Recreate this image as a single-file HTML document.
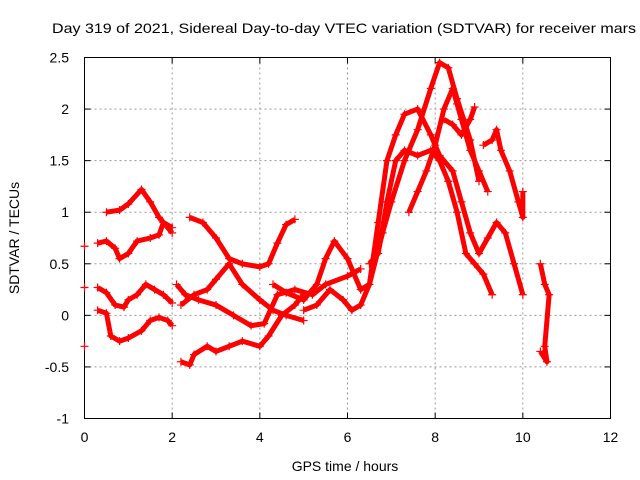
<!DOCTYPE html>
<html><head><meta charset="utf-8"><style>
body{margin:0;background:#fff;}
svg{display:block;font-family:"Liberation Sans",sans-serif;}
</style></head><body>
<svg id="chart" width="640" height="480"></svg>
<script>
const xTicks=[0,2,4,6,8,10,12];
const yTicks=[-1,-0.5,0,0.5,1,1.5,2,2.5];
const yTickLabels=["-1","-0.5","0","0.5","1","1.5","2","2.5"];
const trackA=[[0.3,0.7],[0.5,0.72],[0.7,0.65],[0.8,0.55],[1.0,0.6],[1.2,0.72],[1.5,0.75],[1.7,0.78],[1.8,0.9],[2.0,0.85]];
const trackB=[[0.5,1.0],[0.8,1.02],[1.0,1.08],[1.3,1.22],[1.5,1.1],[1.7,0.95],[2.0,0.8]];
const trackC=[[0.3,0.27],[0.5,0.22],[0.7,0.1],[0.9,0.08],[1.0,0.15],[1.2,0.2],[1.4,0.3],[1.6,0.25],[1.8,0.2],[2.0,0.12]];
const trackD=[[0.3,0.05],[0.5,0.02],[0.6,-0.2],[0.8,-0.25],[1.0,-0.22],[1.3,-0.15],[1.5,-0.05],[1.7,-0.02],[1.9,-0.05],[2.0,-0.1]];
const trackE=[[2.4,0.95],[2.7,0.9],[3.0,0.75],[3.3,0.55],[3.6,0.5],[4.0,0.47],[4.2,0.5],[4.4,0.7],[4.6,0.88],[4.8,0.93]];
const trackF=[[2.2,0.1],[2.5,0.2],[2.8,0.25],[3.0,0.35],[3.3,0.5],[3.6,0.3],[4.0,0.15],[4.3,0.05],[4.6,0.0],[5.0,-0.05]];
const trackG=[[2.2,-0.45],[2.4,-0.48],[2.5,-0.38],[2.8,-0.3],[3.0,-0.35],[3.3,-0.3],[3.6,-0.25],[4.0,-0.3],[4.2,-0.2],[4.5,0.0],[4.8,0.1],[5.0,0.2]];
const trackH=[[2.1,0.3],[2.3,0.2],[2.6,0.15],[3.0,0.1],[3.4,0.0],[3.8,-0.1],[4.1,-0.08],[4.4,0.2],[4.8,0.25],[5.2,0.2],[5.5,0.3],[6.0,0.38],[6.3,0.45]];
const trackI=[[4.3,0.3],[4.6,0.22],[5.0,0.15],[5.3,0.3],[5.5,0.55],[5.7,0.72],[6.0,0.55],[6.3,0.25],[6.5,0.3],[6.8,0.8],[7.0,1.1],[7.3,1.5],[7.6,1.8],[7.9,2.2],[8.1,2.45],[8.3,2.4],[8.5,2.1],[8.8,1.7],[9.0,1.3]];
const trackJ=[[5.0,0.05],[5.3,0.1],[5.6,0.25],[5.9,0.15],[6.1,0.05],[6.3,0.1],[6.5,0.3],[6.7,0.9],[6.9,1.5],[7.1,1.75],[7.3,1.95],[7.6,2.0],[7.9,1.75],[8.1,1.55],[8.4,1.4],[8.6,1.1],[8.8,0.8],[9.0,0.6],[9.2,0.75],[9.4,0.9],[9.6,0.8],[9.8,0.5],[10.0,0.2]];
const trackK=[[6.5,0.5],[6.7,0.6],[6.9,1.1],[7.1,1.5],[7.3,1.6],[7.6,1.55],[7.9,1.6],[8.1,1.5],[8.3,1.3],[8.5,1.0],[8.7,0.6],[8.9,0.5],[9.1,0.4],[9.3,0.2]];
const trackL=[[7.4,1.0],[7.6,1.2],[7.8,1.4],[8.0,1.65],[8.2,2.0],[8.4,2.2],[8.5,2.05],[8.6,1.9],[8.8,1.6],[9.0,1.4],[9.2,1.2]];
const trackM=[[8.2,1.9],[8.4,1.85],[8.6,1.75],[8.8,1.9],[8.9,2.02]];
const trackN=[[9.1,1.65],[9.3,1.7],[9.4,1.8],[9.5,1.6],[9.7,1.4],[9.9,1.1],[10.0,0.95],[10.0,1.2]];
const trackO=[[10.4,0.5],[10.5,0.3],[10.6,0.2],[10.5,-0.3],[10.55,-0.45],[10.4,-0.35]];
const singles=[[0,0.67],[0,0.27],[0,-0.3]];
const tracks=[trackA,trackB,trackC,trackD,trackE,trackF,trackG,trackH,trackI,trackJ,trackK,trackL,trackM,trackN,trackO];

const L=84.5,R=610.5,T=57.5,B=418.5;
const X=v=>L+(v-0)/(12-0)*(R-L);
const Y=v=>B-(v+1)/(3.5)*(B-T);
const NS="http://www.w3.org/2000/svg";
const svg=document.getElementById('chart');
function mk(tag,attrs,parent){const e=document.createElementNS(NS,tag);for(const k in attrs)e.setAttribute(k,attrs[k]);(parent||svg).appendChild(e);return e;}

const t=mk('text',{x:52,y:33,'font-size':14,fill:'#000',textLength:584,lengthAdjust:'spacingAndGlyphs'});
t.textContent='Day 319 of 2021, Sidereal Day-to-day VTEC variation (SDTVAR) for receiver mars';



xTicks.forEach(v=>{
  const x=X(v);
  if(v>0&&v<12){const g=mk('line',{x1:x,x2:x,y1:T,y2:B,stroke:'#999','stroke-dasharray':'2,3'});
  
  }
  mk('line',{x1:x,x2:x,y1:B,y2:B-6,stroke:'#000'});mk('line',{x1:x,x2:x,y1:T,y2:T+6,stroke:'#000'});
  const l=mk('text',{x:x,y:442,'text-anchor':'middle','font-size':14,fill:'#000'});l.textContent=String(v);
  
  
});
yTicks.forEach((v,i)=>{
  const y=Y(v);
  if(v>-1&&v<2.5){const g=mk('line',{x1:L,x2:R,y1:y,y2:y,stroke:'#999','stroke-dasharray':'2,3'});
  
  }
  mk('line',{x1:L,x2:L+6,y1:y,y2:y,stroke:'#000'});mk('line',{x1:R,x2:R-6,y1:y,y2:y,stroke:'#000'});
  const l=mk('text',{x:69,y:y+5,'text-anchor':'end','font-size':14,fill:'#000'});l.textContent=yTickLabels[i];
  
  
});
const fr=mk('rect',{x:L,y:T,width:R-L,height:B-T,fill:'none',stroke:'#000'});



const xl=mk('text',{x:345,y:471,'text-anchor':'middle','font-size':14,fill:'#000'});xl.textContent='GPS time / hours';


const yl=mk('text',{x:0,y:0,'text-anchor':'middle','font-size':14,fill:'#000',transform:'translate(19,238) rotate(-90)'});yl.textContent='SDTVAR / TECUs';



function plus(g,x,y){mk('path',{d:`M${x-4},${y}H${x+4}M${x},${y-4}V${y+4}`,stroke:'#f00','stroke-width':1.2},g);}
tracks.forEach(tr=>{
  const g=mk('g',{});
  
  
  mk('polyline',{points:tr.map(p=>X(p[0])+','+Y(p[1])).join(' '),fill:'none',stroke:'#f00','stroke-width':5,'stroke-linejoin':'round'},g);
  tr.forEach(p=>plus(g,X(p[0]),Y(p[1])));
});
const sg=mk('g',{});


singles.forEach(p=>plus(sg,X(p[0]),Y(p[1])));
</script>
</body></html>
